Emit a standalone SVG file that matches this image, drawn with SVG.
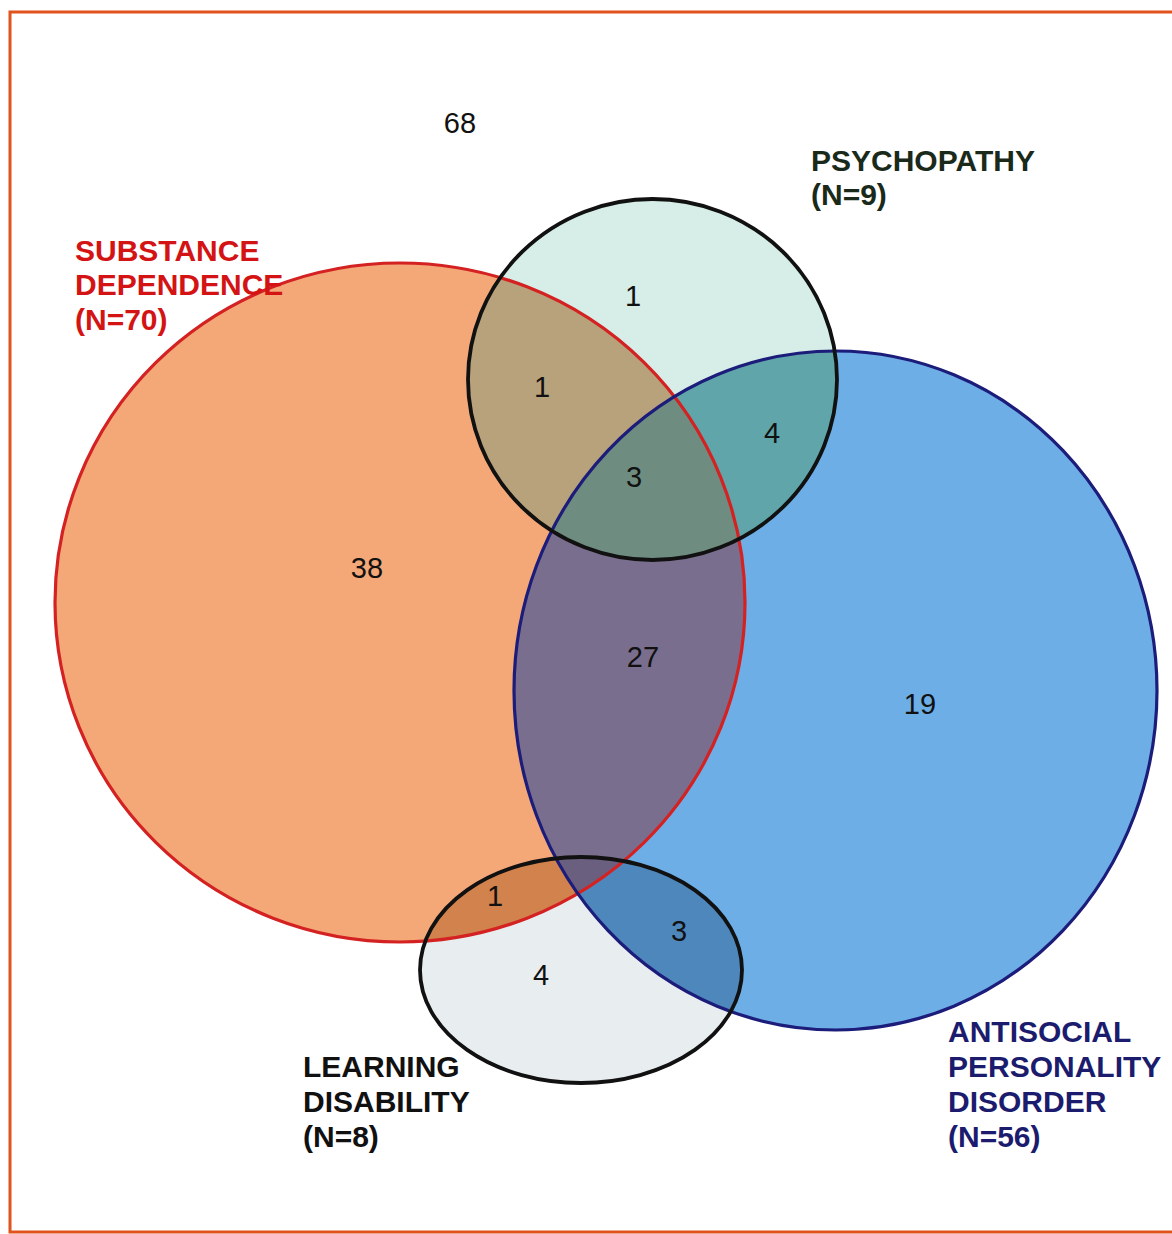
<svg xmlns="http://www.w3.org/2000/svg" width="1172" height="1234" viewBox="0 0 1172 1234">
  <style>
    .label { font-family: "Liberation Sans", Arial, sans-serif; font-weight: bold; font-size: 30px; }
    .count { font-family: "Liberation Sans", Arial, sans-serif; font-size: 29px; fill: #111; text-anchor: middle; }
    .edge { fill: none; }
  </style>
  <defs>
    <ellipse id="shapeS" cx="400" cy="602.5" rx="345" ry="339.5"/>
    <ellipse id="shapeB" cx="835.5" cy="690.5" rx="321.5" ry="339.5"/>
    <ellipse id="shapeP" cx="652.5" cy="379.5" rx="184.5" ry="180.5"/>
    <ellipse id="shapeL" cx="581" cy="970" rx="161" ry="113"/>
    <clipPath id="clipS"><use href="#shapeS"/></clipPath>
    <clipPath id="clipB"><use href="#shapeB"/></clipPath>
    <clipPath id="clipP"><use href="#shapeP"/></clipPath>
    <clipPath id="clipL"><use href="#shapeL"/></clipPath>
  </defs>

  <!-- page frame -->
  <rect x="10" y="12" width="1175" height="1220" fill="#ffffff" stroke="#E0531C" stroke-width="3"/>

  <!-- base set fills -->
  <use href="#shapeS" fill="#F4A878"/>
  <use href="#shapeB" fill="#6DAEE6"/>
  <use href="#shapeP" fill="#D6EEE7"/>
  <use href="#shapeL" fill="#E8EEF0"/>

  <!-- overlap regions -->
  <g id="overlaps">
    <g clip-path="url(#clipS)"><use href="#shapeB" fill="#7A6E8E"/></g>
    <g clip-path="url(#clipS)"><use href="#shapeP" fill="#B8A27C"/></g>
    <g clip-path="url(#clipB)"><use href="#shapeP" fill="#5FA5A9"/></g>
    <g clip-path="url(#clipS)"><g clip-path="url(#clipB)"><use href="#shapeP" fill="#6E8C80"/></g></g>
    <g clip-path="url(#clipS)"><use href="#shapeL" fill="#D2824C"/></g>
    <g clip-path="url(#clipB)"><use href="#shapeL" fill="#4E87BC"/></g>
    <g clip-path="url(#clipS)"><g clip-path="url(#clipB)"><use href="#shapeL" fill="#6B5F80"/></g></g>
  </g>

  <!-- set outlines and labels -->
  <g id="substance-dependence">
    <use href="#shapeS" class="edge" stroke="#D42222" stroke-width="3.2"/>
    <text class="label" fill="#D41414" x="75" y="261">SUBSTANCE</text>
    <text class="label" fill="#D41414" x="75" y="295">DEPENDENCE</text>
    <text class="label" fill="#D41414" x="75" y="330">(N=70)</text>
  </g>
  <g id="antisocial-personality-disorder">
    <use href="#shapeB" class="edge" stroke="#1C1C7A" stroke-width="3.2"/>
    <text class="label" fill="#1C1C6E" x="948" y="1042">ANTISOCIAL</text>
    <text class="label" fill="#1C1C6E" x="948" y="1077">PERSONALITY</text>
    <text class="label" fill="#1C1C6E" x="948" y="1112">DISORDER</text>
    <text class="label" fill="#1C1C6E" x="948" y="1147">(N=56)</text>
  </g>
  <g id="psychopathy">
    <use href="#shapeP" class="edge" stroke="#111111" stroke-width="3.8"/>
    <text class="label" fill="#1A2A1A" x="811" y="171">PSYCHOPATHY</text>
    <text class="label" fill="#1A2A1A" x="811" y="205">(N=9)</text>
  </g>
  <g id="learning-disability">
    <use href="#shapeL" class="edge" stroke="#111111" stroke-width="3.8"/>
    <text class="label" fill="#111111" x="303" y="1077">LEARNING</text>
    <text class="label" fill="#111111" x="303" y="1112">DISABILITY</text>
    <text class="label" fill="#111111" x="303" y="1147">(N=8)</text>
  </g>

  <!-- region counts -->
  <g id="counts">
    <text class="count" x="460" y="133">68</text>
    <text class="count" x="633" y="306">1</text>
    <text class="count" x="542" y="397">1</text>
    <text class="count" x="772" y="443">4</text>
    <text class="count" x="634" y="487">3</text>
    <text class="count" x="367" y="578">38</text>
    <text class="count" x="643" y="667">27</text>
    <text class="count" x="920" y="714">19</text>
    <text class="count" x="495" y="906">1</text>
    <text class="count" x="679" y="941">3</text>
    <text class="count" x="541" y="985">4</text>
  </g>

  <!-- connectors: none drawn -->
  <g id="connectors"></g>
</svg>
